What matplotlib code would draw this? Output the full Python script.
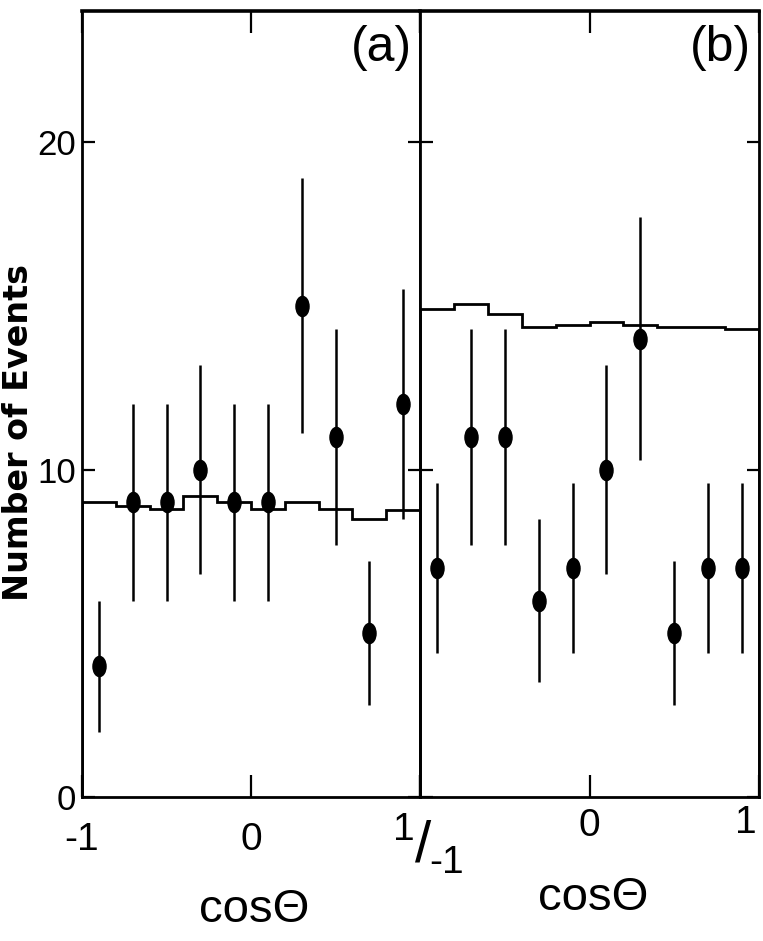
import numpy as np
import matplotlib
matplotlib.use('Agg')
import matplotlib.pyplot as plt
from matplotlib.path import Path
from matplotlib.transforms import Affine2D

plt.rcParams['font.family'] = ['Liberation Sans', 'DejaVu Sans']

### data
bin_edges = [-1.0, -0.8, -0.6, -0.4, -0.2, 0.0, 0.2, 0.4, 0.6, 0.8, 1.0]
bin_centers = [-0.9, -0.7, -0.5, -0.3, -0.1, 0.1, 0.3, 0.5, 0.7, 0.9]

counts_a = [4, 9, 9, 10, 9, 9, 15, 11, 5, 12]
err_a = [2.0, 3.0, 3.0, 3.2, 3.0, 3.0, 3.9, 3.3, 2.2, 3.5]
hist_a = [9.0, 8.9, 8.8, 9.2, 9.0, 8.8, 9.0, 8.8, 8.5, 8.75]

counts_b = [7, 11, 11, 6, 7, 10, 14, 5, 7, 7]
err_b = [2.6, 3.3, 3.3, 2.5, 2.6, 3.2, 3.7, 2.2, 2.6, 2.6]
hist_b = [14.9, 15.05, 14.75, 14.35, 14.4, 14.5, 14.4, 14.35, 14.35, 14.3]

yticks = [0, 10, 20]
xticks = [-1, 0, 1]

# slightly tall dot, like the squeezed scan
ellipse = Path.unit_circle().transformed(Affine2D().scale(0.65, 1.0))

fig = plt.figure(figsize=(7.63, 9.41), dpi=100)
ax_a = fig.add_axes([0.1075, 0.153, 0.443, 0.8353])
ax_b = fig.add_axes([0.5505, 0.153, 0.4443, 0.8353])

panels = [(ax_a, counts_a, err_a, hist_a, '(a)', ['-1', '0', '']),
          (ax_b, counts_b, err_b, hist_b, '(b)', ['', '0', ''])]

for ax, counts, errs, hist, tag, xlabs in panels:
    ax.stairs(hist, bin_edges, color='black', lw=2)
    ax.errorbar(bin_centers, counts, yerr=errs, fmt='none', ecolor='black', elinewidth=1.8)
    ax.plot(bin_centers, counts, ls='none', marker=ellipse, ms=14.5, color='black')
    ax.set_xlim(-1, 1)
    ax.set_ylim(0, 24)
    ax.set_xticks(xticks)
    ax.set_xticklabels(xlabs)
    ax.set_yticks(yticks)
    ax.tick_params(axis='both', direction='in', top=True, right=True)
    ax.tick_params(axis='y', length=9, width=1.6, labelsize=25, pad=4)
    ax.tick_params(axis='x', length=16, width=1.6, labelsize=28, pad=18)
    for s in ax.spines.values():
        s.set_linewidth(2)
    ax.spines['top'].set_linewidth(2.6)
    ax.text(0.975, 0.982, tag, transform=ax.transAxes, ha='right', va='top', fontsize=36)
    ax.set_xlabel('cosΘ', fontsize=34)
    ax.xaxis.label.set_va('center')

ax_b.tick_params(axis='y', labelleft=False)
ax_b.tick_params(axis='x', pad=8)
ax_a.xaxis.set_label_coords(0.509, -0.144)
ax_b.xaxis.set_label_coords(0.51, -0.128)

ax_a.set_ylabel('Number of Events', fontsize=24, fontweight='bold', family='DejaVu Sans')
ax_a.yaxis.label.set_va('center')
ax_a.yaxis.set_label_coords(-0.188, 0.464)

# the shared "1/-1" label where the two panels meet, and the right-hand "1"
fig.text(415 / 763, 1 - 830 / 941, '1', fontsize=28, ha='right', va='center')
fig.text(423 / 763, 1 - 846 / 941, '/', fontsize=42, ha='center', va='center')
fig.text(429 / 763, 1 - 863 / 941, '-1', fontsize=28, ha='left', va='center')
fig.text(757 / 763, 1 - 823 / 941, '1', fontsize=28, ha='right', va='center')

plt.savefig('out.png', dpi=100)
